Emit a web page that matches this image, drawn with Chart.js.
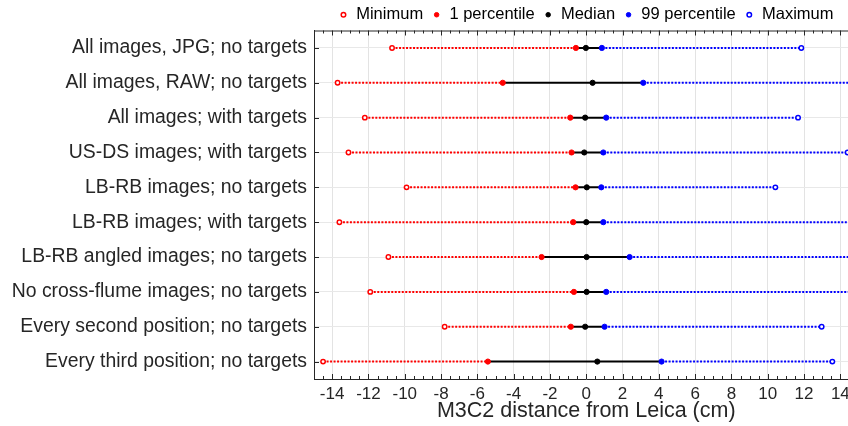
<!DOCTYPE html>
<html>
<head>
<meta charset="utf-8">
<script src="https://cdn.jsdelivr.net/npm/chart.js@4.4.0/dist/chart.umd.min.js"></script>
<style>
  html, body { margin: 0; padding: 0; overflow: hidden; background: #fff; }
  #wrap { width: 864px; height: 426px; }
</style>
</head>
<body>
<div id="wrap"><canvas id="distChart"></canvas></div>
<script>
const categories = [
    'All images, JPG; no targets',
    'All images, RAW; no targets',
    'All images; with targets',
    'US-DS images; with targets',
    'LB-RB images; no targets',
    'LB-RB images; with targets',
    'LB-RB angled images; no targets',
    'No cross-flume images; no targets',
    'Every second position; no targets',
    'Every third position; no targets'
];
// values in cm, one per category
const minimum   = [-10.7, -13.7, -12.2, -13.1, -9.9, -13.6, -10.9, -11.9, -7.8, -14.5];
const pct1      = [-0.57, -4.6, -0.88, -0.81, -0.59, -0.72, -2.46, -0.68, -0.85, -5.42];
const median    = [-0.02, 0.35, -0.06, -0.11, 0.03, 0.0, 0.02, 0.02, -0.06, 0.61];
const pct99     = [0.86, 3.14, 1.1, 0.94, 0.83, 0.94, 2.39, 1.1, 1.01, 4.15];
const maximum   = [11.85, 15.9, 11.67, 14.4, 10.42, 15.6, 16.8, 15.4, 12.97, 13.56];
const xTicks    = [-14, -12, -10, -8, -6, -4, -2, 0, 2, 4, 6, 8, 10, 12, 14];
const xMin = -15, xMax = 15, minorStep = 0.5;

const RED = '#ff0000', BLUE = '#0000ff', BLACK = '#000000';
const axisColor = '#262626';
const fontFamily = '"Liberation Sans", Arial, Helvetica, sans-serif';

function points(values) {
    return values.map((v, i) => ({x: v, y: categories[i]}));
}

// one line per row: min -> p1 (red dotted), p1 -> p99 (black), p99 -> max (blue dotted)
const rowLines = categories.map((c, i) => ({
    label: c,
    data: [minimum[i], pct1[i], median[i], pct99[i], maximum[i]].map(v => ({x: v, y: c})),
    showLine: true,
    borderWidth: 2,
    pointRadius: 0,
    pointHoverRadius: 0,
    order: 2,
    segment: {
        borderColor: ctx => ctx.p0DataIndex === 0 ? RED : (ctx.p0DataIndex === 3 ? BLUE : BLACK),
        borderDash: ctx => (ctx.p0DataIndex === 0 || ctx.p0DataIndex === 3) ? [2, 1.5] : []
    }
}));

function markerSet(label, values, color, open) {
    return {
        label: label,
        data: points(values),
        showLine: false,
        pointStyle: 'circle',
        pointRadius: open ? 2.2 : 2.6,
        pointBorderWidth: open ? 1.5 : 1,
        pointBackgroundColor: open ? '#ffffff' : color,
        pointBorderColor: color,
        backgroundColor: open ? '#ffffff' : color,
        borderColor: color,
        borderWidth: open ? 1.5 : 1,
        order: 0,
        isMarker: true
    };
}

const markers = [
    markerSet('Minimum', minimum, RED, true),
    markerSet('1 percentile', pct1, RED, false),
    markerSet('Median', median, BLACK, false),
    markerSet('99 percentile', pct99, BLUE, false),
    markerSet('Maximum', maximum, BLUE, true)
];

// minor/major tick marks drawn inside the box, plus the top frame line
const tickMarks = {
    id: 'tickMarks',
    afterDraw(chart) {
        const {ctx, chartArea: a, scales: {x, y}} = chart;
        ctx.save();
        ctx.strokeStyle = axisColor;
        ctx.lineWidth = 1;
        ctx.beginPath();
        ctx.moveTo(a.left, a.top + 0.5);
        ctx.lineTo(a.right, a.top + 0.5);
        for (let v = xMin; v <= xMax; v += minorStep) {
            const px = Math.round(x.getPixelForValue(v)) + 0.5;
            const len = v % 2 === 0 ? 5 : 3;
            ctx.moveTo(px, a.bottom);
            ctx.lineTo(px, a.bottom - len);
            ctx.moveTo(px, a.top);
            ctx.lineTo(px, a.top + len);
        }
        y.ticks.forEach((t, i) => {
            const py = Math.round(y.getPixelForTick(i)) + 0.5;
            ctx.moveTo(a.left, py);
            ctx.lineTo(a.left + 5, py);
        });
        ctx.stroke();
        ctx.restore();
    }
};

const ctx = document.getElementById('distChart').getContext('2d');
new Chart(ctx, {
    type: 'line',
    data: {
        datasets: rowLines.concat(markers)
    },
    plugins: [tickMarks],
    options: {
        responsive: true,
        maintainAspectRatio: false,
        animation: false,
        layout: {
            padding: {top: -2.5, left: 0, right: 0, bottom: 0}
        },
        plugins: {
            legend: {
                position: 'top',
                fullSize: false,
                align: 'center',
                maxHeight: 33,
                labels: {
                    usePointStyle: true,
                    boxWidth: 9,
                    boxHeight: 3.2,
                    padding: 9,
                    color: '#000000',
                    font: {family: fontFamily, size: 16.5},
                    filter: (item, data) => !!data.datasets[item.datasetIndex].isMarker
                }
            },
            tooltip: {enabled: false}
        },
        scales: {
            x: {
                type: 'linear',
                min: xMin,
                max: xMax,
                afterBuildTicks: scale => {
                    scale.ticks = xTicks.map(v => ({value: v}));
                },
                afterFit: scale => { scale.height = 47; },
                grid: {
                    color: '#e3e3e3',
                    drawTicks: false
                },
                border: {color: axisColor, width: 1},
                ticks: {
                    padding: 5,
                    color: axisColor,
                    font: {family: fontFamily, size: 17}
                },
                title: {
                    display: true,
                    text: 'M3C2 distance from Leica (cm)',
                    color: axisColor,
                    font: {family: fontFamily, size: 21.5},
                    padding: {top: 0, bottom: 2}
                }
            },
            y: {
                type: 'category',
                labels: categories,
                offset: true,
                afterFit: scale => { scale.width = 314; },
                grid: {
                    color: '#e8e8e8',
                    drawTicks: false
                },
                border: {color: axisColor, width: 1},
                ticks: {
                    autoSkip: false,
                    padding: 7,
                    color: axisColor,
                    font: {family: fontFamily, size: 19.4}
                }
            }
        }
    }
});
</script>
</body>
</html>
